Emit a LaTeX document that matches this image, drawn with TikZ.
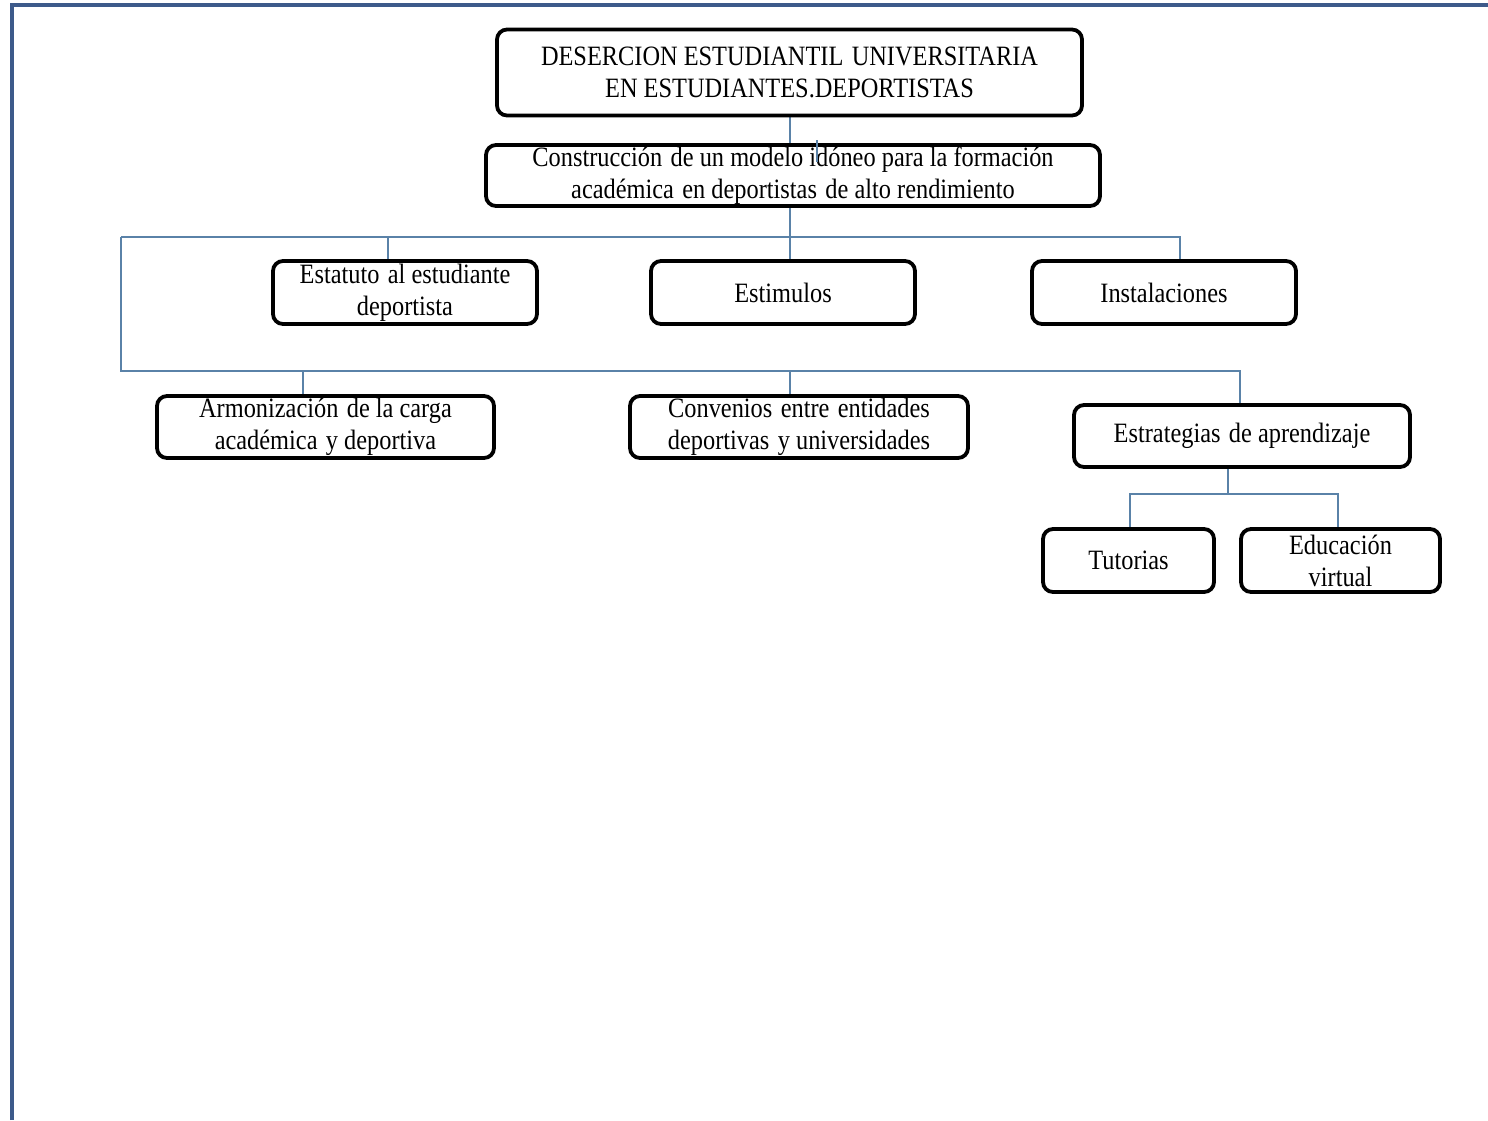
\documentclass[tikz,border=0pt]{standalone}
\usepackage{fontspec}
\setmainfont[FakeStretch=0.87]{Liberation Serif}
\usetikzlibrary{backgrounds}
\definecolor{framecol}{HTML}{3D5A8A}
\definecolor{linkcol}{HTML}{5A82A8}
\newcommand{\dsp}{\hspace{0.3em}}
\begin{document}
\begin{tikzpicture}[x=0.5pt,y=-0.5pt,
  box/.style={draw=black,line width=1.9pt,rounded corners=5pt,fill=white,
    align=center,inner sep=0pt,font=\fontsize{14}{16}\selectfont},
  link/.style={draw=linkcol,line width=0.75pt}]
\useasboundingbox (0,0) rectangle (1488,1120);

% boxes
\node[box,minimum width=292.5pt,minimum height=43pt] (title) at (789.5,72.5)
  {DESERCION ESTUDIANTIL\dsp UNIVERSITARIA\\EN ESTUDIANTES.DEPORTISTAS};
\node[box,minimum width=307pt,minimum height=30.5pt] (constr) at (793,175.5)
  {Construcción\dsp de un modelo idóneo para la formación\\académica\dsp en deportistas\dsp de alto rendimiento};
\node[box,minimum width=132pt,minimum height=31.5pt] (estatuto) at (405,292.5)
  {Estatuto\dsp al estudiante\\deportista};
\node[box,minimum width=132pt,minimum height=31.5pt] (estim) at (783,292.5)
  {Estimulos};
\node[box,minimum width=132pt,minimum height=31.5pt] (instal) at (1164,292.5)
  {Instalaciones};
\node[box,minimum width=168.5pt,minimum height=31pt] (armon) at (325.5,427)
  {Armonización\dsp de la carga\\académica\dsp y deportiva};
\node[box,minimum width=169pt,minimum height=31pt] (conven) at (799,427)
  {Convenios\dsp entre\dsp entidades\\deportivas\dsp y universidades};
\node[box,minimum width=168pt,minimum height=31pt] (estrat) at (1242,436)
  {Estrategias\dsp de aprendizaje};
\node[box,minimum width=85.5pt,minimum height=31.5pt] (tutor) at (1128.5,560.5)
  {Tutorias};
\node[box,minimum width=99.5pt,minimum height=31.5pt] (educ) at (1340.5,560.5)
  {Educación\\virtual};

% bus and branch points
\coordinate (trunk) at (790,0);
\coordinate (busAL) at (121,237);
\coordinate (busAR) at (1180,237);
\coordinate (busBL) at (121,371);
\coordinate (busBR) at (1240,371);
\coordinate (brA) at (388,237);
\coordinate (brB) at (303,371);
\coordinate (busC) at (1228,494);
\coordinate (busCL) at (1130,494);
\coordinate (busCR) at (1338,494);
\coordinate (tick) at (817,140);

% short stray stroke over the second box
\draw[link] (tick) -- ++(0,22);

\begin{scope}[on background layer]
  \fill[white] (0,0) rectangle (1488,1120);
  % page frame (left and top edges)
  \draw[framecol,line width=2pt] (12,1120) -- (12,5) -- (1488,5);
  % connectors
  \draw[link] (trunk |- title.south) -- (trunk |- constr.north);
  \draw[link] (trunk |- constr.south) -- (trunk |- busAL);
  \draw[link] (busAL) -- (busAR) -- (busAR |- instal.north);
  \draw[link] (brA) -- (brA |- estatuto.north);
  \draw[link] (trunk |- busAL) -- (trunk |- estim.north);
  \draw[link] (busAL) -- (busBL) -- (busBR) -- (busBR |- estrat.north);
  \draw[link] (brB) -- (brB |- armon.north);
  \draw[link] (trunk |- busBL) -- (trunk |- conven.north);
  \draw[link] (busC |- estrat.south) -- (busC);
  \draw[link] (busCL |- tutor.north) -- (busCL) -- (busCR) -- (busCR |- educ.north);
\end{scope}
\end{tikzpicture}
\end{document}
